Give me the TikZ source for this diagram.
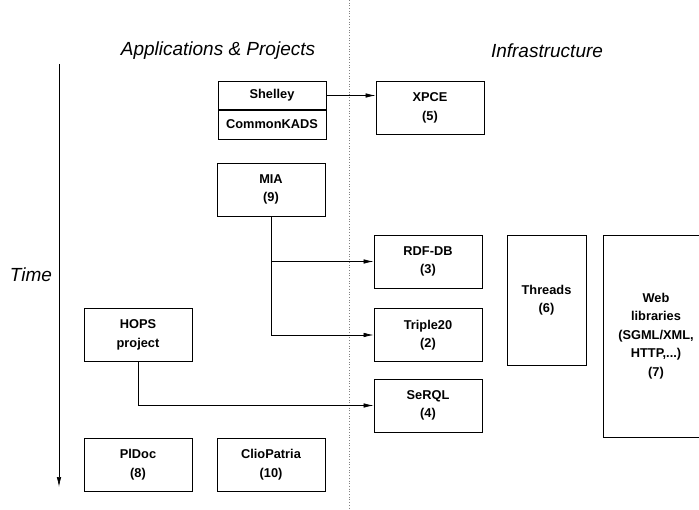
\documentclass[tikz,border=0pt]{standalone}
\usepackage{fontspec}
\setmainfont{Liberation Sans}
\usetikzlibrary{calc}
\usetikzlibrary{arrows.meta}

\begin{document}
\begin{tikzpicture}[x=1pt,y=-1pt,
    box/.style={draw,line width=0.8pt,align=center,inner sep=0pt,
      font=\fontsize{12.8}{18.5}\selectfont\bfseries,
      minimum width=108pt,minimum height=53pt},
    heading/.style={font=\fontsize{19}{22}\selectfont\itshape},
    link/.style={line width=0.7pt,-{Latex[length=10pt,width=4.5pt]}}]
    \useasboundingbox (0,0) rectangle (699,510);
    \clip (0,0) rectangle (699,510);
    % column titles and time axis
    \node[heading] (apps) at (218,51) {Applications \& Projects};
    \node[heading] (infra) at (547,51) {Infrastructure};
    \node[heading] (time) at (31,275) {Time};
    \coordinate (t0) at (59,64);
    \coordinate (t1) at (59,487);
    \draw[link] (t0) -- (t1);
    \coordinate (d0) at (349,0);
    \coordinate (d1) at (349,510);
    \draw[dotted,gray,line width=0.7pt] (d0) -- (d1);
    % applications
    \node[box,minimum height=28pt] (shelley) at (272,95.5) {Shelley};
    \node[box,minimum height=29pt] (kads) at (272,124.5) {CommonKADS};
    \node[box] (mia) at (271,189.5) {MIA\\(9)};
    \node[box] (hops) at (138,335) {HOPS\\project};
    \node[box] (pldoc) at (138,464.5) {PlDoc\\(8)};
    \node[box] (clio) at (271,464.5) {ClioPatria\\(10)};
    % infrastructure
    \node[box] (xpce) at (430,108) {XPCE\\(5)};
    \node[box] (rdfdb) at (428,261.5) {RDF-DB\\(3)};
    \node[box] (triple) at (428,335) {Triple20\\(2)};
    \node[box] (serql) at (428,405.5) {SeRQL\\(4)};
    \node[box,minimum width=79pt,minimum height=130pt] (threads) at (546.5,300)
      {Threads\\(6)};
    \node[box,minimum width=106pt,minimum height=202pt] (web) at (656,336)
      {Web\\libraries\\(SGML/XML,\\HTTP,...)\\(7)};
    % dependencies
    \draw[link] (shelley.east) -- (shelley.east -| xpce.west);
    \draw[link] (mia.south) |- (rdfdb.west);
    \draw[link] (mia.south) |- (triple.west);
    \draw[link] (hops.south) |- (serql.west);
\end{tikzpicture}
\end{document}
